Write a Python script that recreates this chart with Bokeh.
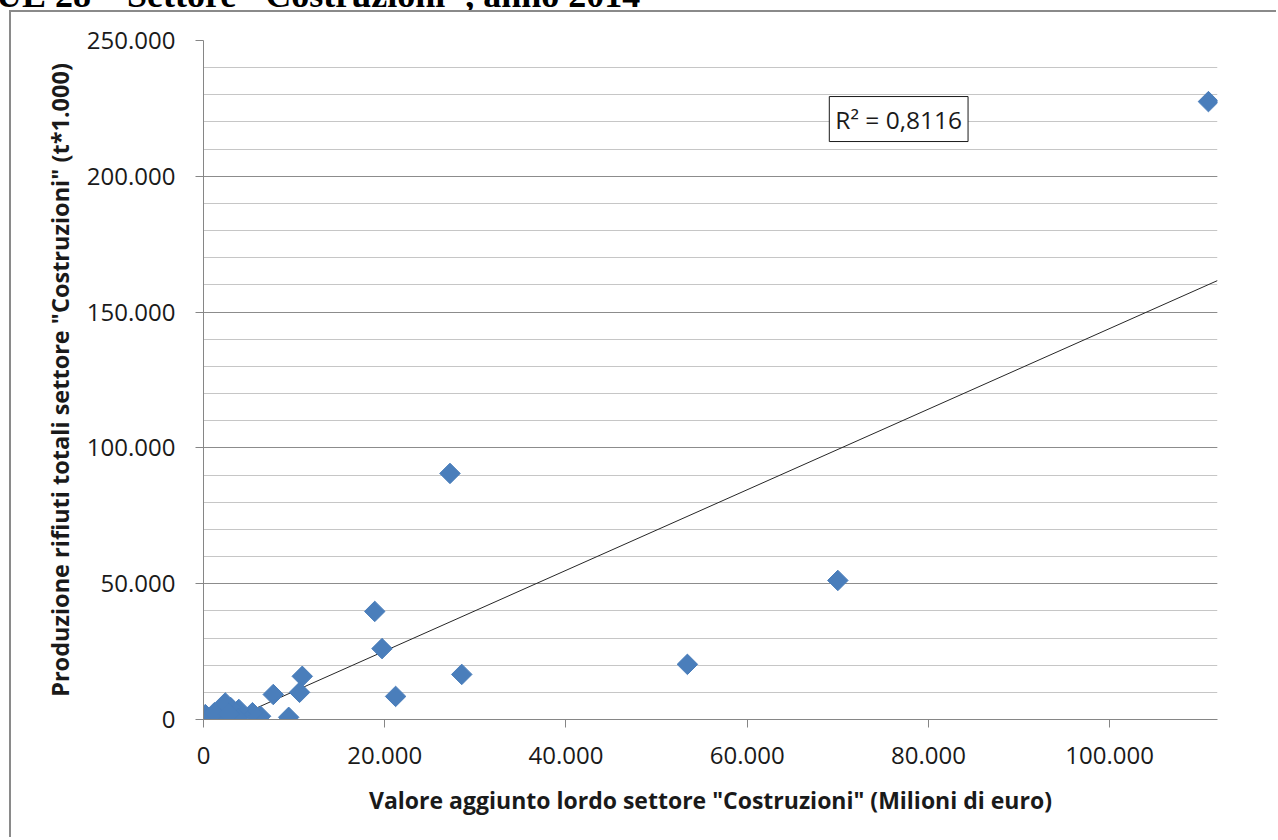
import numpy as np
from bokeh.plotting import figure
from bokeh.layouts import column
from bokeh.models import (ColumnDataSource, SingleIntervalTicker, CustomJSTickFormatter,
                          Label, Range1d, Div)
from bokeh.embed import file_html
from bokeh.resources import INLINE

# Valore aggiunto lordo (Milioni di euro) and rifiuti (t*1.000), EU 28, 2014
x_vals = [110900, 70000, 53400, 27200, 18900, 19700, 28500, 21200, 10900, 10600,
          7700, 9400, 6300, 5400, 4100, 3900, 3000, 2400, 1500, 600,
          200, 1000, 1800, 2600, 3800, 300, 1200, 2800]
y_vals = [227500, 51200, 20300, 90600, 39800, 26100, 16600, 8500, 15900, 10000,
          9200, 800, 1200, 2500, 2000, 3700, 4400, 6100, 1200, 600,
          1800, 200, 300, 800, 300, 300, 2500, 2000]
# linear trendline
trend_slope = 1.484
trend_intercept = -4450
r2_text = "R² = 0,8116"
title_text = "UE 28 – Settore \"Costruzioni\", anno 2014"
x_label = "Valore aggiunto lordo settore \"Costruzioni\" (Milioni di euro)"
y_label = "Produzione rifiuti totali settore \"Costruzioni\" (t*1.000)"
x_max = 111900
y_max = 250000

FONT = "Open Sans"

p = figure(width=1265, height=825, output_backend="svg", toolbar_location=None,
           x_range=Range1d(0, x_max), y_range=Range1d(0, y_max),
           min_border_left=192, min_border_right=61, min_border_top=28, min_border_bottom=120)
p.background_fill_color = "white"
p.border_fill_color = "white"
p.outline_line_color = None
p.margin = (0, 0, 0, 9)
p.styles = {"border-left": "2px solid #8a8a8a", "border-top": "2px solid #8a8a8a",
            "box-sizing": "content-box"}

# grid
p.xgrid.grid_line_color = None
p.ygrid.grid_line_color = "#8c8c8c"
p.ygrid.minor_grid_line_color = "#c6c6c6"
p.ygrid.grid_line_width = 1
p.ygrid.minor_grid_line_width = 1

fmt = CustomJSTickFormatter(code="return tick.toFixed(0).replace(/\\B(?=(\\d{3})+(?!\\d))/g, '.');")

# axes
yt = SingleIntervalTicker(interval=50000, num_minor_ticks=5)
xt = SingleIntervalTicker(interval=20000, num_minor_ticks=0)
p.yaxis.ticker = yt
p.ygrid.ticker = yt
p.xaxis.ticker = xt
for ax in (p.xaxis[0], p.yaxis[0]):
    ax.formatter = fmt
    ax.axis_line_color = "#868686"
    ax.major_tick_line_color = "#868686"
    ax.major_tick_out = 8
    ax.major_tick_in = 0
    ax.minor_tick_out = 0
    ax.minor_tick_in = 0
    ax.major_label_text_font = FONT
    ax.major_label_text_font_size = "24px"
    ax.major_label_text_color = "#1a1a1a"
    ax.axis_label_text_font = FONT
    ax.axis_label_text_font_size = "23px"
    ax.axis_label_text_font_style = "bold"
    ax.axis_label_text_color = "#1a1a1a"
p.yaxis.axis_label_text_font_size = "23.5px"
p.yaxis.major_label_standoff = 20
p.xaxis.major_label_standoff = 19
p.xaxis.axis_label = x_label
p.yaxis.axis_label = y_label
p.xaxis.axis_label_standoff = 17
p.yaxis.axis_label_standoff = 8

# trendline
tx = [min(x_vals), x_max]
ty = [trend_slope * v + trend_intercept for v in tx]
p.line(tx, ty, line_color="#262626", line_width=1)

# markers (diamonds)
src = ColumnDataSource(dict(x=x_vals, y=y_vals))
p.scatter("x", "y", source=src, marker="square", angle=np.pi / 4, size=14.5,
          fill_color="#4a7ebb", line_color="#4a7ebb", line_width=1)

# R^2 label box
p.add_layout(Label(x=69060, y=212800, text=r2_text, text_font=FONT, text_font_size="24.5px",
                   text_color="#1a1a1a", border_line_color="#1a1a1a", border_line_width=1,
                   background_fill_color="white", padding=6, text_baseline="bottom"))

# cut-off page title above the chart frame
title_div = Div(
    text=('<div style="position:relative; top:-23px; left:-4px; white-space:nowrap; '
          'font-family:\'Liberation Serif\'; font-weight:bold; font-size:36px; '
          'line-height:36px; color:black;">' + title_text + '</div>'),
    width=1278, height=10, margin=(0, 0, 0, 0),
    styles={"overflow": "hidden"})

layout = column(title_div, p, spacing=0)
open("out.html", "w").write(file_html(layout, INLINE))
